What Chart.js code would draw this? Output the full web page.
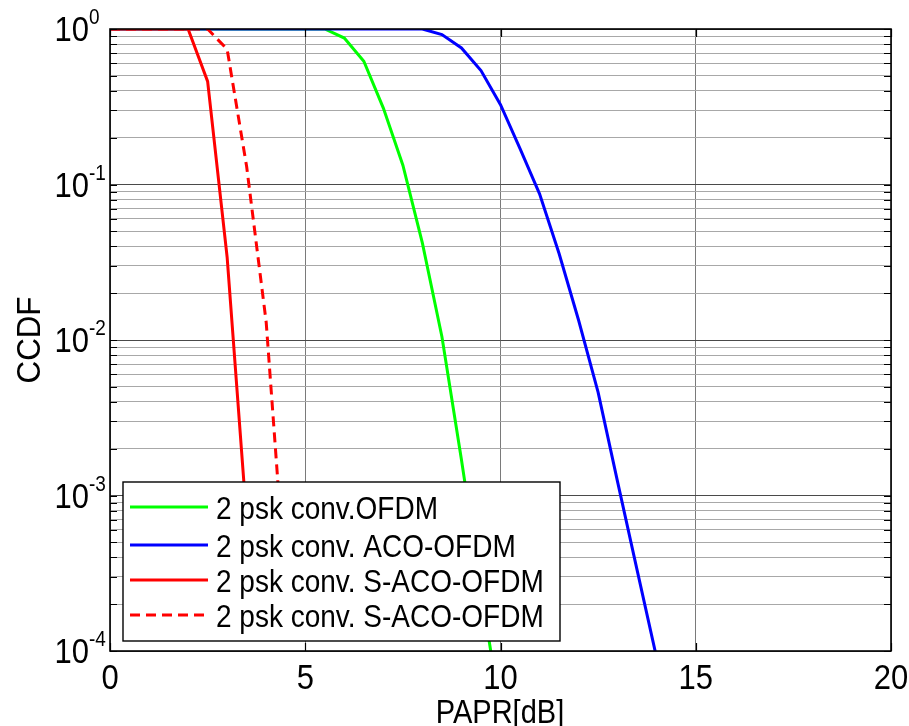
<!DOCTYPE html>
<html>
<head>
<meta charset="utf-8">
<script src="https://cdn.jsdelivr.net/npm/chart.js@4.4.1/dist/chart.umd.min.js"></script>
<style>
  html, body { margin: 0; padding: 0; background: #fff; }
  #wrap { width: 909px; height: 726px; }
</style>
</head>
<body>
<div id="wrap"><canvas id="mycanvas" width="909" height="726"></canvas></div>
<script>
// PAPR axis (dB)
var papr = [0, 0.5, 1, 1.5, 2, 2.5, 3, 3.5, 4, 4.5, 5, 5.5, 6, 6.5, 7, 7.5, 8, 8.5, 9, 9.5, 10, 10.5, 11, 11.5, 12, 12.5, 13, 13.5, 14];

// CCDF values
var convOfdm = [1, 1, 1, 1, 1, 1, 1, 1, 1, 1, 1, 1, 0.875, 0.62, 0.31, 0.133, 0.042, 0.0105, 0.0017, 0.00025, 0.00004];
var acoOfdm  = [1, 1, 1, 1, 1, 1, 1, 1, 1, 1, 1, 1, 1, 1, 1, 1, 1, 0.92, 0.755, 0.54, 0.326, 0.17, 0.087, 0.036, 0.0134, 0.0046, 0.00122, 0.00033, 0.00009];
var sAcoOfdm = [1, 1, 1, 1, 1, 0.46, 0.034, 0.0007];
var sAcoOfdm2 = [1, 1, 1, 1, 1, 1, 0.74, 0.13, 0.013, 0.00025];

var seriesNames = ['2 psk conv.OFDM', '2 psk conv. ACO-OFDM', '2 psk conv. S-ACO-OFDM', '2 psk conv. S-ACO-OFDM'];
var seriesColors = ['#00ff00', '#0000ff', '#ff0000', '#ff0000'];

var xTicks = [0, 5, 10, 15, 20];
var yDecades = [1e-4, 1e-3, 1e-2, 1e-1, 1];
var yExponents = ['-4', '-3', '-2', '-1', '0'];

var FONT = '"Liberation Sans", Arial, Helvetica, sans-serif';
var STRETCH = 1.13; // text in the picture is a bit taller than plain Arial

function toPoints(vals) {
  var pts = [];
  for (var i = 0; i < vals.length; i++) {
    pts.push({x: papr[i], y: vals[i]});
  }
  return pts;
}

// grid values on the log axis: 1..9 of each decade
var yGrid = [];
for (var d = 0; d < yDecades.length; d++) {
  for (var m = 1; m <= 9; m++) {
    var v = yDecades[d] * m;
    if (v <= 1.0000001) yGrid.push(v);
  }
}

function isDecade(v) {
  var l = Math.log10(v);
  return Math.abs(l - Math.round(l)) < 1e-6;
}

// draw text stretched vertically around its baseline
function tallText(c, s, x, y) {
  c.save();
  c.translate(x, y);
  c.scale(1, STRETCH);
  c.fillText(s, 0, 0);
  c.restore();
}

var frame = {
  id: 'frame',
  afterDatasetsDraw: function(chart) {
    var c = chart.ctx, a = chart.chartArea;
    var xs = chart.scales.x, ys = chart.scales.y;
    c.save();
    c.strokeStyle = '#000';
    c.lineWidth = 1.2;
    // inward ticks
    c.beginPath();
    xTicks.forEach(function(t) {
      var px = Math.round(xs.getPixelForValue(t)) + 0.5;
      c.moveTo(px, a.bottom); c.lineTo(px, a.bottom - 8);
      c.moveTo(px, a.top); c.lineTo(px, a.top + 8);
    });
    yGrid.forEach(function(v) {
      var py = Math.round(ys.getPixelForValue(v)) + 0.5;
      c.moveTo(a.left, py); c.lineTo(a.left + 7, py);
      c.moveTo(a.right, py); c.lineTo(a.right - 7, py);
    });
    c.stroke();
    c.lineWidth = 1.6;
    c.strokeRect(a.left, a.top, a.right - a.left, a.bottom - a.top);

    // legend box
    var lx = 123, ly = 482, lw = 437, lh = 159;
    c.fillStyle = '#fff';
    c.fillRect(lx, ly, lw, lh);
    c.strokeStyle = '#000';
    c.lineWidth = 1.4;
    c.strokeRect(lx, ly, lw, lh);
    var rows = [507, 545, 580, 615];
    c.font = '28px ' + FONT;
    c.textBaseline = 'alphabetic';
    for (var i = 0; i < seriesNames.length; i++) {
      c.beginPath();
      c.strokeStyle = seriesColors[i];
      c.lineWidth = 3;
      c.setLineDash(i === 3 ? [10, 6] : []);
      c.moveTo(130, rows[i]); c.lineTo(208, rows[i]);
      c.stroke();
      c.setLineDash([]);
      c.fillStyle = '#000';
      c.textAlign = 'left';
      tallText(c, seriesNames[i], 216, rows[i] + 12);
    }

    // tick labels
    c.fillStyle = '#000';
    c.font = '31px ' + FONT;
    c.textAlign = 'center';
    xTicks.forEach(function(t) {
      tallText(c, String(t), xs.getPixelForValue(t), 689);
    });
    yDecades.forEach(function(v, k) {
      var py = ys.getPixelForValue(v);
      c.font = '31px ' + FONT;
      c.textAlign = 'right';
      tallText(c, '10', 89, py + 12);
      c.font = '19px ' + FONT;
      c.textAlign = 'left';
      tallText(c, yExponents[k], 89, py - 5);
    });

    // axis titles
    c.font = '29px ' + FONT;
    c.textAlign = 'center';
    tallText(c, 'PAPR[dB]', 500, 723);
    c.save();
    c.translate(40, 340);
    c.rotate(-Math.PI / 2);
    c.scale(1.08, STRETCH);
    c.fillText('CCDF', 0, 0);
    c.restore();
    c.restore();
  }
};

var chartdata = {
  datasets: [
    { label: seriesNames[0], data: toPoints(convOfdm), borderColor: seriesColors[0], order: 4 },
    { label: seriesNames[1], data: toPoints(acoOfdm), borderColor: seriesColors[1], order: 3 },
    { label: seriesNames[2], data: toPoints(sAcoOfdm), borderColor: seriesColors[2], order: 2 },
    { label: seriesNames[3], data: toPoints(sAcoOfdm2), borderColor: seriesColors[3], borderDash: [10, 6], order: 1 }
  ]
};

var ctx = document.getElementById('mycanvas');
var chart = new Chart(ctx, {
  type: 'line',
  data: chartdata,
  options: {
    responsive: false,
    animation: false,
    layout: { padding: { left: 110, right: 18, top: 29, bottom: 75 } },
    elements: {
      line: { borderWidth: 3, tension: 0, fill: false },
      point: { radius: 0, hoverRadius: 0 }
    },
    plugins: { legend: { display: false }, tooltip: { enabled: false } },
    scales: {
      x: {
        type: 'linear',
        min: 0, max: 20,
        ticks: { display: false, stepSize: 5 },
        grid: { color: '#7a7a7a', lineWidth: 1, drawTicks: false },
        border: { display: false }
      },
      y: {
        type: 'logarithmic',
        min: 1e-4, max: 1,
        afterBuildTicks: function(scale) {
          scale.ticks = yGrid.map(function(v) { return {value: v}; });
        },
        ticks: { display: false },
        grid: {
          drawTicks: false,
          lineWidth: 1,
          color: function(c) { return (c.tick && isDecade(c.tick.value)) ? '#4a4a4a' : '#a8a8a8'; }
        },
        border: { display: false }
      }
    }
  },
  plugins: [frame]
});
</script>
</body>
</html>
